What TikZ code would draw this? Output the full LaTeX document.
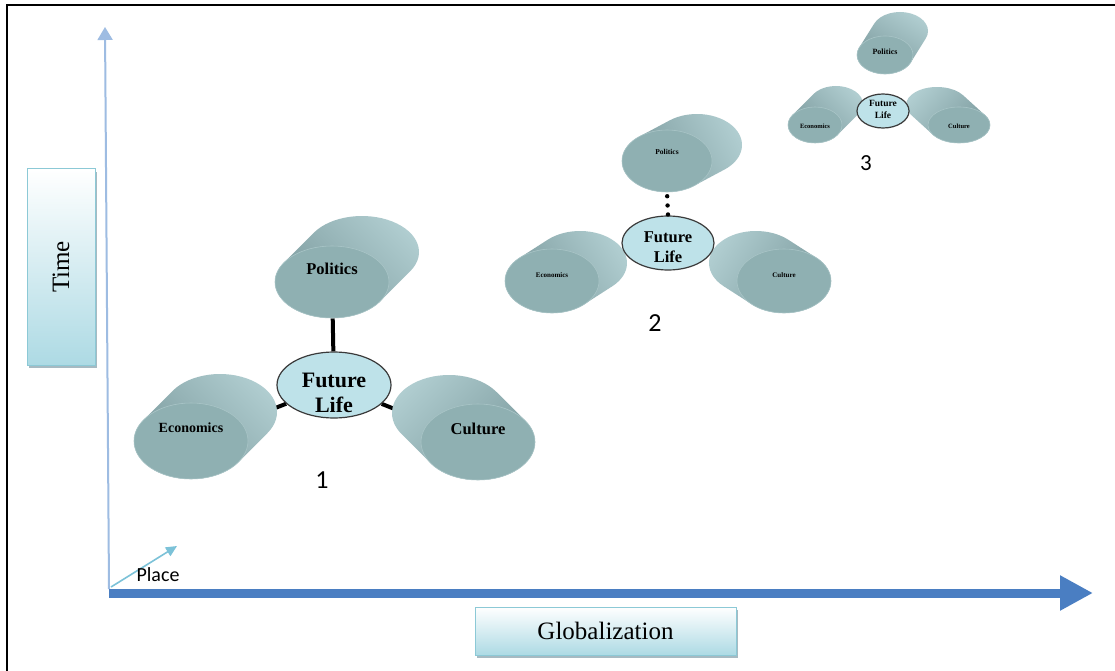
\documentclass[tikz,border=0pt]{standalone}
\usepackage{fontspec}
\setmainfont{Liberation Serif}
\newfontfamily\calib{Carlito}
\usetikzlibrary{calc,arrows.meta,shapes.geometric,shadows}
\pgfdeclarelayer{back}
\pgfsetlayers{back,main}
\definecolor{cylLight}{HTML}{B0CDD0}
\definecolor{cylDark}{HTML}{779699}
\definecolor{faceFill}{HTML}{8FB0B2}
\definecolor{faceRim}{HTML}{A9C5C7}
\definecolor{flFill}{HTML}{BEE2E9}
\definecolor{flDraw}{HTML}{3A3A3A}
\definecolor{boxBot}{HTML}{ADDAE4}
\definecolor{boxDraw}{HTML}{8CC9D6}
\definecolor{boxShadow}{HTML}{9DB3BC}
\definecolor{axisBlue}{HTML}{4A7EC2}
\definecolor{yAxis}{HTML}{9EBCE2}
\definecolor{placeCol}{HTML}{7CC2D8}
\newcommand\fsz[1]{\fontsize{#1}{#1}\selectfont\bfseries}
\newcommand\fszl[2]{\fontsize{#1}{#2}\selectfont\bfseries}
\newcommand\cylnode[9]{%
  \pgfmathsetmacro\cylt{atan2(-(#7)*(#4),(#6)*(#5))}%
  \pgfmathsetmacro\cylte{\cylt+180}%
  \pgfmathsetmacro\cyltf{\cylt+360}%
  \pgfmathsetmacro\cylsa{atan2(-(#5),#4)-90}%
  \path[top color=cylLight, bottom color=cylDark, shading angle=\cylsa]
    ($(#2,#3)+(#4,#5)+(\cylt:#6 and #7)$)
    arc[start angle=\cylt, end angle=\cylte, x radius=#6, y radius=#7]
    -- ($(#2,#3)+(\cylte:#6 and #7)$)
    arc[start angle=\cylte, end angle=\cyltf, x radius=#6, y radius=#7] -- cycle;
  \node[face, minimum width=2*#6, minimum height=2*#7] (#1) at (#2,#3) {};
  \node[inner sep=0pt, #8] (#1-t) at (#1) {#9};
}
\tikzset{
  face/.style={ellipse, inner sep=0pt, fill=faceFill, draw=faceRim, line width=0.6pt},
  fl/.style={ellipse, inner sep=0pt, fill=flFill, draw=flDraw, line width=1.2pt},
  fltext/.style={align=center, inner sep=0pt},
  axisbox/.style={rectangle, inner sep=0pt, top color=white, bottom color=boxBot,
    draw=boxDraw, line width=1pt,
    drop shadow={shadow xshift=2pt, shadow yshift=-3pt, fill=boxShadow, opacity=0.9}},
  conn/.style={line width=4pt, black},
  numlabel/.style={font=\calib\fontsize{26}{26}\selectfont, inner sep=0pt}
}
\begin{document}
\begin{tikzpicture}[x=1pt,y=-1pt]
\useasboundingbox (0,0) rectangle (1115,671);
\begin{pgfonlayer}{back}
\fill[white] (0,0) rectangle (1115,671);
\end{pgfonlayer}
% frame
\draw[line width=2.4pt] (7,671) -- (7,5) -- (1115,5);

% axes
\coordinate (yorig) at (109,589);
\coordinate (ytop) at (105,27);
\draw[line width=2pt, yAxis, -{Triangle[length=13pt,width=15pt]}] (yorig) -- (ytop);
\coordinate (xorig) at (109,593);
\coordinate (xend) at (1093,593);
\draw[line width=9pt, axisBlue, -{Triangle[length=33pt,width=33pt]}] (xorig) -- (xend);
\coordinate (pstart) at (111,587);
\coordinate (pend) at (177,546);
\draw[line width=1.6pt, placeCol, -{Triangle[length=11pt,width=10pt]}] (pstart) -- (pend);
\node[font=\calib\fontsize{20}{20}\selectfont, inner sep=0pt] (place) at (158,575) {Place};

% axis boxes
\node[axisbox, minimum width=68pt, minimum height=196pt] (timebox) at (61,267) {};
\node[rotate=90, font=\fontsize{25}{25}\selectfont, inner sep=0pt] (timetext) at (timebox) {Time};
\node[axisbox, minimum width=261pt, minimum height=48pt] (globbox) at (605.5,631) {};
\node[font=\fontsize{25}{25}\selectfont, inner sep=0pt] (globtext) at (globbox) {Globalization};

% group 1
\cylnode{pol1}{332}{282}{30}{-30}{57}{36}{font=\fsz{16.5}, yshift=13pt}{Politics}
\cylnode{eco1}{191}{441}{29}{-29}{57}{38}{font=\fsz{14}, yshift=13pt}{Economics}
\cylnode{cul1}{478}{442}{-29}{-29}{57}{38}{font=\fsz{16.5}, yshift=13pt}{Culture}
\node[fl, minimum width=114pt, minimum height=66pt] (fl1) at (334,385) {};
\node[fltext, font=\fszl{22}{25}, yshift=-7.5pt] (fl1-t) at (fl1) {Future\\Life};
\node[numlabel] (n1) at (322,480) {1};

% group 2
\cylnode{pol2}{667}{161}{30}{-16}{45}{31}{font=\fsz{7.5}, yshift=9pt}{Politics}
\cylnode{eco2}{552}{281}{28}{-18}{47}{32}{font=\fsz{7}, yshift=6pt}{Economics}
\cylnode{cul2}{784}{281}{-28}{-18}{47}{32}{font=\fsz{7}, yshift=6pt}{Culture}
\node[fl, minimum width=92pt, minimum height=54pt] (fl2) at (668,243) {};
\node[fltext, font=\fszl{16.5}{20}, yshift=-4pt] (fl2-t) at (fl2) {Future\\Life};
\node[numlabel] (n2) at (655,323) {2};

% group 3
\cylnode{pol3}{885}{55}{15}{-24}{28}{19}{font=\fsz{8}, yshift=3pt}{Politics}
\cylnode{eco3}{815}{125}{21}{-21}{27}{18}{font=\fsz{6.5}, yshift=-1pt}{Economics}
\cylnode{cul3}{959}{125}{-22}{-20}{31}{18}{font=\fsz{6.5}, yshift=-1pt}{Culture}
\node[fl, minimum width=52pt, minimum height=34pt] (fl3) at (883,111) {};
\node[fltext, font=\fszl{9.5}{12}, yshift=2pt] (fl3-t) at (fl3) {Future\\Life};
\node[numlabel, font=\calib\fontsize{23}{23}\selectfont] (n3) at (866,163) {3};

% connectors
\begin{pgfonlayer}{back}
\draw[conn] (fl1) -- (pol1);
\draw[conn] (fl1) -- (eco1);
\draw[conn] (fl1) -- (cul1);
\end{pgfonlayer}
\foreach \s in {0.17,0.57,0.96}
  \fill[black] ($(pol2.south)!\s!(fl2.north)$) circle (2.2);
\end{tikzpicture}
\end{document}
